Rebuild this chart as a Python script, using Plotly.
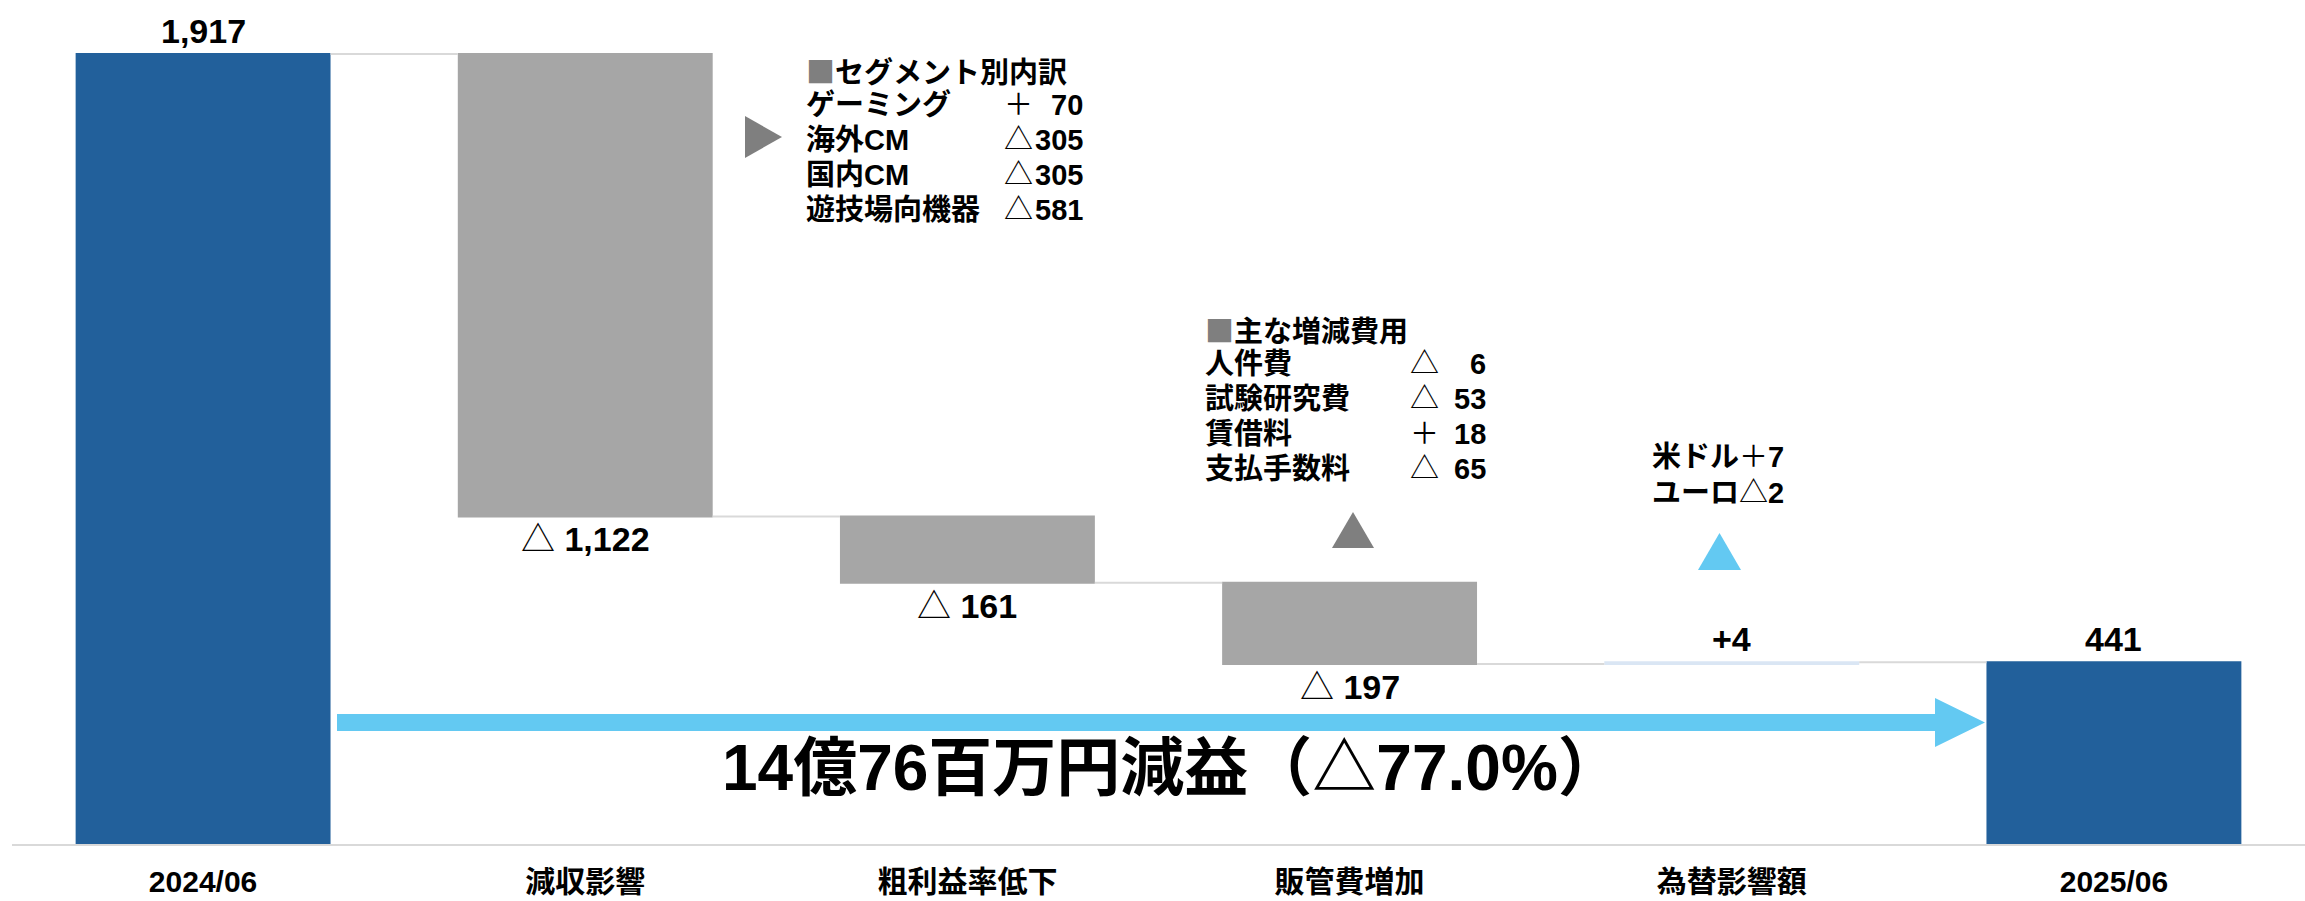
import plotly.graph_objects as go

# ---------------- data ----------------
categories = ["2024/06", "減収影響", "粗利益率低下", "販管費増加", "為替影響額", "2025/06"]
measures = ["absolute", "relative", "relative", "relative", "relative", "total"]
values = [1917, -1122, -161, -197, 4, 441]

seg_title = "セグメント別内訳"
seg_labels = ["ゲーミング", "海外CM", "国内CM", "遊技場向機器"]
seg_values = [70, -305, -305, -581]

cost_title = "主な増減費用"
cost_labels = ["人件費", "試験研究費", "賃借料", "支払手数料"]
cost_values = [-6, -53, 18, -65]

fx_labels = ["米ドル", "ユーロ"]
fx_values = [7, -2]

summary_text = "14億76百万円減益（△77.0%）"

# ---------------- layout constants ----------------
W, H = 2305, 901
L, R, T, B = 12, 0, 10, 57
PW, PH = W - L - R, H - T - B
YMAX = 2024

FONT = "Liberation Sans, Arial, Noto Sans CJK JP, sans-serif"
CJK = "Noto Sans CJK JP"
BLUE = "#22609b"
GRAY = "#a6a6a6"
DGRAY = "#7f7f7f"
LBLUE = "#63c9f2"
PALE = "#dae6f4"


def px(x):
    return (x - L) / PW


def py(y):
    return 1 - (y - T) / PH


def sym(v):
    return "＋" if v > 0 else "△"


# waterfall levels
starts, ends = [], []
level = 0
for m, v in zip(measures, values):
    if m == "absolute":
        s, e = 0, v
        level = v
    elif m == "relative":
        s, e = level, level + v
        level = e
    else:
        s, e = 0, level
    starts.append(s)
    ends.append(e)

xs = list(range(len(categories)))

fig = go.Figure()
fig.add_trace(go.Waterfall(
    x=xs, y=values, measure=measures,
    decreasing=dict(marker=dict(color=GRAY)),
    increasing=dict(marker=dict(color=PALE)),
    totals=dict(marker=dict(color=BLUE)),
    connector=dict(mode="between", line=dict(color="#d9d9d9", width=2)),
    textinfo="none", hoverinfo="skip", showlegend=False,
))

ann = []
VSIZE = 34
# value labels
for i, (m, v) in enumerate(zip(measures, values)):
    if m == "relative" and v < 0:
        txt = "△ <b>{:,}</b>".format(abs(v))
        ann.append(dict(x=i, y=min(starts[i], ends[i]), xref="x", yref="y",
                        text=txt, showarrow=False, yanchor="top", yshift=-2,
                        font=dict(size=VSIZE, color="black", family=FONT)))
    else:
        txt = "<b>+{:,}</b>".format(v) if m == "relative" else "<b>{:,}</b>".format(ends[i])
        ann.append(dict(x=i, y=max(starts[i], ends[i]), xref="x", yref="y",
                        text=txt, showarrow=False, yanchor="bottom", yshift=2,
                        font=dict(size=VSIZE, color="black", family=FONT)))

# breakdown boxes
def box(title, labels, vals, x_left, sym_cx, num_right, y0, step, size=29):
    ann.append(dict(x=px(x_left), y=py(y0), xref="paper", yref="paper",
                    xanchor="left", yanchor="middle", showarrow=False,
                    text="<span style='color:%s;font-family:%s'>■</span><b>%s</b>" % (DGRAY, CJK, title),
                    font=dict(size=size, color="black", family=FONT)))
    for k, (lab, v) in enumerate(zip(labels, vals)):
        yy = y0 + step * (k + 1)
        ann.append(dict(x=px(x_left), y=py(yy), xref="paper", yref="paper",
                        xanchor="left", yanchor="middle", showarrow=False,
                        text="<b>%s</b>" % lab,
                        font=dict(size=size, color="black", family=FONT)))
        ann.append(dict(x=px(sym_cx), y=py(yy), xref="paper", yref="paper",
                        xanchor="center", yanchor="middle", showarrow=False,
                        text=sym(v),
                        font=dict(size=size, color="black", family=FONT)))
        ann.append(dict(x=px(num_right), y=py(yy), xref="paper", yref="paper",
                        xanchor="right", yanchor="middle", showarrow=False,
                        text="<b>%d</b>" % abs(v),
                        font=dict(size=size, color="black", family=FONT)))


box(seg_title, seg_labels, seg_values, 804, 1018, 1085, 70, 35)
box(cost_title, cost_labels, cost_values, 1203, 1424, 1488, 329, 35)

for k, (lab, v) in enumerate(zip(fx_labels, fx_values)):
    ann.append(dict(x=px(1650), y=py(457 + 36 * k), xref="paper", yref="paper",
                    xanchor="left", yanchor="middle", showarrow=False,
                    text="<b>%s</b>%s<b>%d</b>" % (lab, sym(v), abs(v)),
                    font=dict(size=29, color="black", family=FONT)))

ann.append(dict(x=px(1172), y=py(768), xref="paper", yref="paper",
                xanchor="center", yanchor="middle", showarrow=False,
                text="<b>%s</b>" % summary_text,
                font=dict(size=64, color="black", family=FONT)))


def path(pts):
    return "M " + " L ".join("%.5f,%.5f" % (px(a), py(b)) for a, b in pts) + " Z"


shapes = [
    dict(type="path", xref="paper", yref="paper", line=dict(width=0), fillcolor=LBLUE,
         path=path([(337, 714), (1935, 714), (1935, 698), (1985, 722.5),
                    (1935, 747), (1935, 731), (337, 731)])),
    dict(type="path", xref="paper", yref="paper", line=dict(width=0), fillcolor=DGRAY,
         path=path([(745, 116), (782, 137), (745, 158)])),
    dict(type="path", xref="paper", yref="paper", line=dict(width=0), fillcolor=DGRAY,
         path=path([(1332, 548), (1374, 548), (1353, 512)])),
    dict(type="path", xref="paper", yref="paper", line=dict(width=0), fillcolor=LBLUE,
         path=path([(1698, 570), (1741, 570), (1719.5, 533)])),
]

fig.update_layout(
    template="none",
    width=W, height=H,
    margin=dict(l=L, r=R, t=T, b=B, pad=0, autoexpand=False),
    paper_bgcolor="white", plot_bgcolor="white",
    waterfallgap=0.333,
    annotations=ann, shapes=shapes,
    font=dict(family=FONT, color="black"),
    xaxis=dict(range=[-0.5, len(categories) - 0.5], tickvals=xs,
               ticktext=["<b>%s</b>" % c for c in categories],
               tickfont=dict(size=30, color="black", family=FONT),
               showgrid=False, zeroline=False, showline=True,
               linecolor="#d9d9d9", linewidth=2, ticks="",
               automargin=False, ticklabelstandoff=10, fixedrange=True),
    yaxis=dict(range=[0, YMAX], visible=False, showgrid=False, zeroline=False,
               automargin=False, fixedrange=True),
)

fig.write_html("out.html", config={"displayModeBar": False},
               post_script="document.body.style.margin='0';document.body.style.overflow='hidden';")
